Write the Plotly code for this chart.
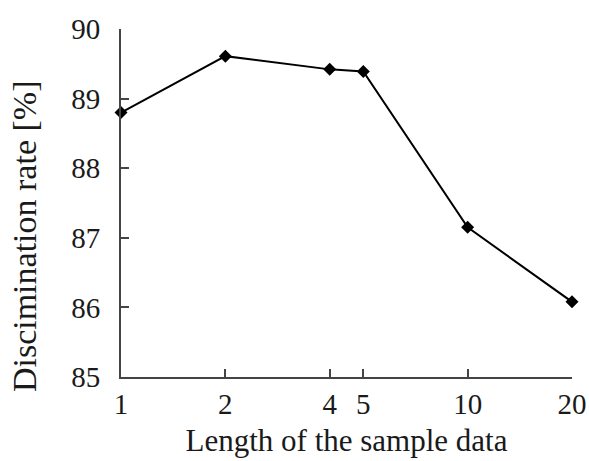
import math
import plotly.graph_objects as go

# Discrimination rate versus length of the sample data
lengths = [1, 2, 4, 5, 10, 20]
rates = [88.80, 89.61, 89.42, 89.39, 87.15, 86.08]
x_ticks = [1, 2, 4, 5, 10, 20]
y_ticks = [85, 86, 87, 88, 89, 90]

font_family = "Liberation Serif, Times New Roman, serif"

fig = go.Figure(
    go.Scatter(
        x=lengths,
        y=rates,
        mode="lines+markers",
        line=dict(color="black", width=2),
        marker=dict(symbol="diamond", size=10, color="black"),
        cliponaxis=False,
        showlegend=False,
    )
)

fig.update_layout(
    width=589,
    height=461,
    margin=dict(l=121, r=17, t=29, b=84),
    paper_bgcolor="white",
    plot_bgcolor="white",
    font=dict(family=font_family, size=29, color="#1a1a1a"),
)

fig.update_xaxes(
    type="log",
    range=[0, math.log10(20)],
    tickvals=x_ticks,
    ticktext=[str(v) for v in x_ticks],
    ticks="inside",
    ticklen=8,
    tickwidth=1.5,
    tickcolor="#444",
    showline=True,
    linecolor="#444",
    linewidth=2,
    showgrid=False,
    zeroline=False,
    automargin=False,
    tickfont=dict(size=29),
    title=dict(text="Length of the sample data", font=dict(size=31), standoff=11),
)

fig.update_yaxes(
    range=[85, 90],
    tickvals=y_ticks,
    ticks="inside",
    ticklen=8,
    tickwidth=1.5,
    tickcolor="#444",
    showline=True,
    linecolor="#444",
    linewidth=2,
    showgrid=False,
    zeroline=False,
    automargin=False,
    ticklabelstandoff=13,
    tickfont=dict(size=29),
)

# Vertical axis title, set a little below the plot's middle
fig.add_annotation(
    text="Discimination rate [%]",
    textangle=-90,
    xref="paper",
    yref="paper",
    x=-0.215,
    y=0.405,
    xanchor="center",
    yanchor="middle",
    showarrow=False,
    font=dict(size=34, family=font_family, color="#1a1a1a"),
)

fig.write_html("out.html")
